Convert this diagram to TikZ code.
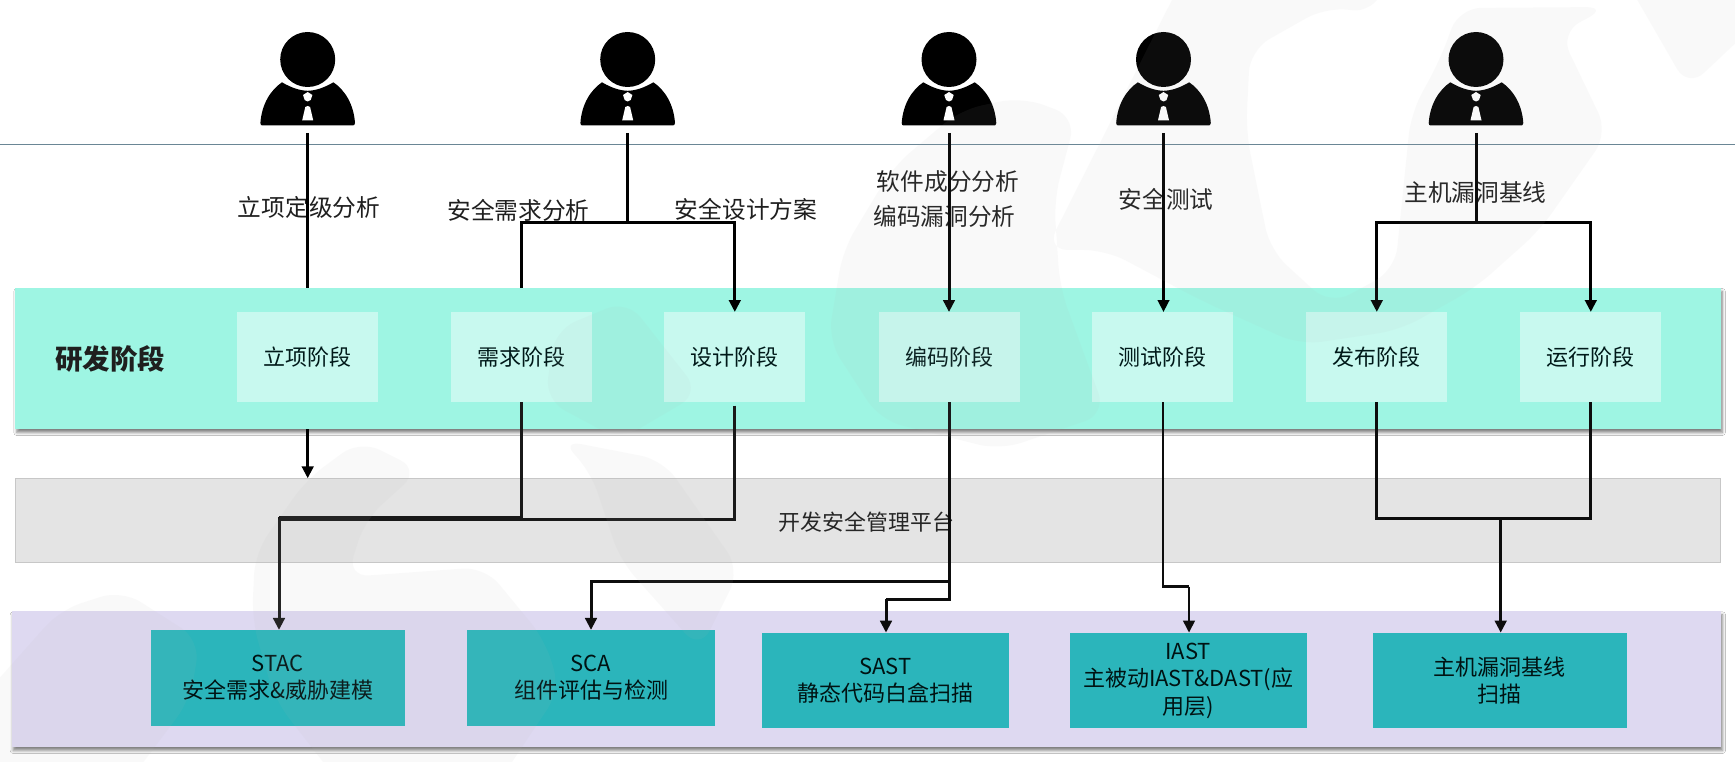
\documentclass[tikz,border=0pt]{standalone}
\usepackage{fontspec}
\setmainfont{Noto Sans CJK SC}
\usetikzlibrary{arrows.meta,shadows.blur,calc}
\definecolor{bandgreen}{HTML}{9EF5E3}
\definecolor{stagefill}{HTML}{C8F9EF}
\definecolor{graybandc}{HTML}{E4E4E4}
\definecolor{purpleband}{HTML}{DED9F1}
\definecolor{tealbox}{HTML}{2BB5BB}
\definecolor{rulec}{HTML}{6A8695}
\definecolor{markc}{HTML}{B8B8B8}
\tikzset{
  bandshadow/.style={blur shadow={shadow xshift=1.5pt,shadow yshift=-3.5pt,shadow blur radius=3pt,shadow opacity=50}},
  greenband/.style={fill=bandgreen,minimum width=1705.5pt,minimum height=141pt,inner sep=0pt,outer sep=0pt,bandshadow},
  grayband/.style={fill=graybandc,draw=black!22,line width=.8pt,minimum width=1705.5pt,minimum height=84.4pt,inner sep=0pt,outer sep=0pt},
  purplebandst/.style={fill=purpleband,minimum width=1709.3pt,minimum height=135.7pt,inner sep=0pt,outer sep=0pt,bandshadow},
  stagebox/.style={fill=stagefill,minimum width=141pt,minimum height=90pt,inner sep=0pt,outer sep=0pt,text=black!80!teal,font=\fontsize{22}{26}\selectfont},
  toolbox/.style={fill=tealbox,minimum height=95.7pt,inner sep=0pt,outer sep=0pt,align=center,text=black!85!teal,font=\fontsize{22}{27.5}\selectfont},
  toplabel/.style={inner sep=0pt,outer sep=0pt,text=black!88,font=\fontsize{23.7}{28}\selectfont},
  personbox/.style={minimum width=95pt,minimum height=101pt,inner sep=0pt,outer sep=0pt},
  link/.style={line width=3pt,black},
  linkto/.style={link,-{Triangle[width=11.5pt,length=12pt]}},
  personfig/.pic={
    \fill[black] (0,59.5) circle[radius=27.5];
    \fill[black] (-47.3,123) .. controls (-46,104) and (-37,90) .. (-25.7,82.3)
      .. controls (-16,88) and (-8,90.5) .. (0,90.8)
      .. controls (8,90.5) and (16,88) .. (25.7,82.3)
      .. controls (37,90) and (46,104) .. (47.3,123)
      .. controls (47.3,125) and (46,125.5) .. (45,125.5)
      -- (-45,125.5) .. controls (-46.5,125.5) and (-47.3,125) .. (-47.3,123) -- cycle;
    \fill[white] (-4.7,95) -- (0,92) -- (4.7,95) -- (3,100) -- (0,101.5) -- (-3,100) -- cycle;
    \fill[white] (0,106) -- (2.4,107) -- (5.5,120.3) -- (-5.5,120.3) -- (-2.4,107) -- cycle;
  }
}
\begin{document}
\begin{tikzpicture}[x=1pt,y=-1pt]
\useasboundingbox[fill=white] (0,0) rectangle (1735,762);
% bands
\node[greenband] (band) at (868.05,358.5) {};
\node[grayband] (gray) at (868.05,520.5) {};
\node[purplebandst] (tools) at (866.35,679.15) {};
% rule
\coordinate (ruleL) at (0,144.3);
\coordinate (ruleR) at (1735,144.3);
\draw[rulec,line width=1pt] (ruleL) -- (ruleR);
% persons
\foreach \n/\x in {p1/307.7,p2/627.7,p3/949,p4/1163.5,p5/1476}{
  \node[personbox] (\n) at (\x,82.5) {};
  \pic at (\x,0) {personfig};
}
% stages
\node[stagebox] (s1) at (307.3,357) {立项阶段};
\node[stagebox] (s2) at (521,357) {需求阶段};
\node[stagebox] (s3) at (734.8,357) {设计阶段};
\node[stagebox] (s4) at (949,357) {编码阶段};
\node[stagebox] (s5) at (1162.9,357) {测试阶段};
\node[stagebox] (s6) at (1376.8,357) {发布阶段};
\node[stagebox] (s7) at (1590.8,357) {运行阶段};
\node[inner sep=0pt,text=black!88,font=\fontsize{27.5}{32}\selectfont\bfseries] (stagehead) at (110,359) {研发阶段};
% tools
\node[toolbox,minimum width=253.6pt] (t1) at (277.8,677.8) {STAC\\安全需求\&威胁建模};
\node[toolbox,minimum width=248.5pt] (t2) at (591,677.8) {SCA\\组件评估与检测};
\node[toolbox,minimum width=246.7pt] (t3) at (885.3,680.5) {SAST\\静态代码白盒扫描};
\node[toolbox,minimum width=237.4pt] (t4) at (1188.2,680.5) {IAST\\主被动IAST\&DAST(应\\用层)};
\node[toolbox,minimum width=254.5pt] (t5) at (1499.8,680.5) {主机漏洞基线\\扫描};
% labels
\node[toplabel] (l1) at (309,207.5) {立项定级分析};
\node[toplabel] (l2) at (518.5,210) {安全需求分析};
\node[toplabel] (l3) at (746,209) {安全设计方案};
\node[toplabel] (l4) at (948,181.7) {软件成分分析};
\node[toplabel] (l5) at (944.5,216) {编码漏洞分析};
\node[toplabel] (l6) at (1166,199) {安全测试};
\node[toplabel] (l7) at (1475.5,192.7) {主机漏洞基线};
\node[inner sep=0pt,text=black!85,font=\fontsize{21.9}{26}\selectfont] (platform) at (866.5,522.5) {开发安全管理平台};
% connectors above
\draw[link] (p1.south) -- (p1.south |- band.north);
\draw[linkto] (p1.south |- band.south) -- (p1.south |- gray.north);
\coordinate (b2) at (627.7,222.5);
\draw[link] (p2.south) -- (b2);
\draw[link] (s2.north |- band.north) -- (s2.north |- b2) -- (b2);
\draw[linkto] (b2) -| (s3.north);
\draw[linkto] (p3.south) -- (p3.south |- s4.north);
\draw[linkto,line width=2.6pt] (p4.south) -- (p4.south |- s5.north);
\coordinate (b5) at (1476,222.5);
\draw[link] (p5.south) -- (b5);
\draw[linkto] (b5) -| (s6.north);
\draw[linkto] (b5) -| (s7.north);
% connectors below
\coordinate (j1) at (279,517);
\coordinate (j2) at (279,519);
\draw[link,black!90] (s2.south) |- (j1);
\draw[link,black!90] ($(s3.south)+(0,3.5)$) |- (j2);
\draw[linkto,black!90] (j1) -- (t1.north -| j1);
\coordinate (c1) at (949,581);
\coordinate (c2) at (886,599);
\draw[link,black!95] (s4.south) |- (c2);
\draw[linkto,black!95] (c2) -- (t3.north -| c2);
\draw[linkto,black!95] (c1) -| (t2.north);
\coordinate (d1) at (1189,586.7);
\draw[link,line width=2.6pt,black!95] (s5.south) |- (d1);
\draw[linkto,line width=2.6pt,black!95] (d1) -- (t4.north -| d1);
\coordinate (e1) at (1500.7,518);
\draw[link,black!95] (s6.south) |- (e1);
\draw[link,black!95] (s7.south) |- (e1);
\draw[linkto,black!95] (e1) -- (t5.north -| e1);
% faint background watermark
\begin{scope}[even odd rule]
\fill[markc,opacity=.07,rounded corners=22pt]
  (1187,-30) -- (1390,-30) -- (1374,13) -- (1326,7) -- (1250,50) -- (1246,132) -- (1270,250) -- (1330,305) -- (1395,270) -- (1411,113) -- (1440,60) -- (1459,8) -- (1608,7) -- (1560,33) -- (1608,133) -- (1540,230) -- (1475,288) -- (1400,330) -- (1300,345) -- (1200,300) -- (1106,250) -- (1046,250) -- cycle
  (1620,-30) -- (1688,88) -- (1760,20) -- (1760,-30) -- cycle
  (1022,97) -- (1076,117) -- (1054,200) -- (1060,288) -- (1106,414) -- (1000,450) -- (880,420) -- (828,340) -- (843,250) -- (893,167) -- (960,110) -- cycle
  (306,480) -- (255,553) -- (252,620) -- (275,700) -- (337,780) -- (500,780) -- (560,690) -- (545,640) -- (485,567) -- (347,577) -- (365,520) -- (420,470) -- (360,440) -- cycle
  (560,440) -- (663,460) -- (740,570) -- (700,650) -- (620,560) -- (590,470) -- cycle
  (627,300) -- (700,393) -- (620,440) -- (545,400) -- (555,330) -- cycle
  (-20,700) -- (60,610) -- (122,590) -- (200,640) -- (190,700) -- (130,780) -- (-20,780) -- cycle;
\end{scope}
\end{tikzpicture}
\end{document}
